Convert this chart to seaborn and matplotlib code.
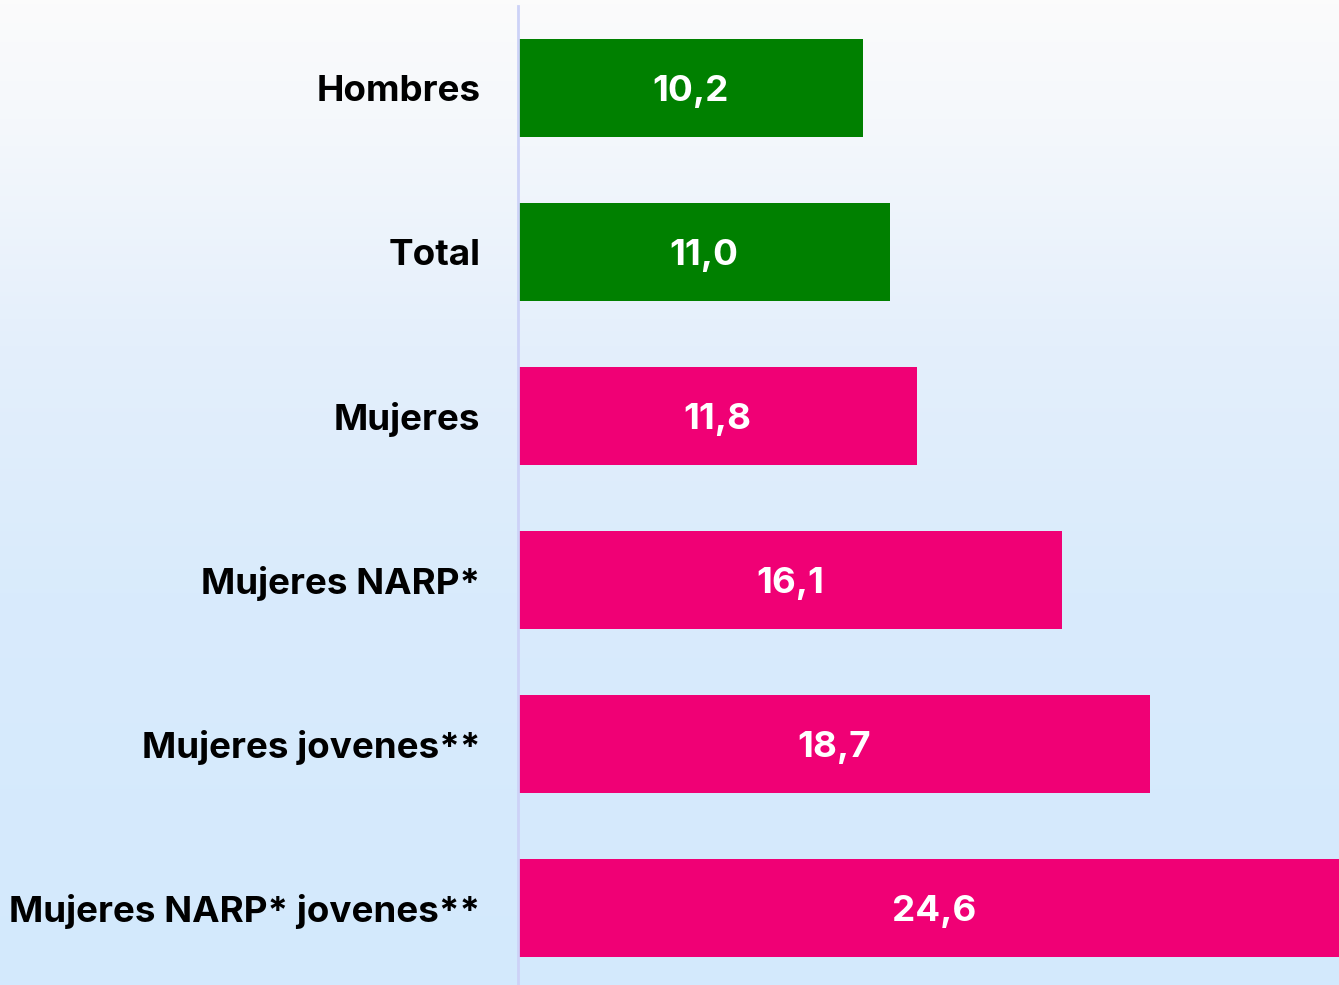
import numpy as np
import pandas as pd
import matplotlib
matplotlib.use("Agg")
import matplotlib.pyplot as plt
from matplotlib.colors import LinearSegmentedColormap
import seaborn as sns

categories = ["Hombres", "Total", "Mujeres", "Mujeres NARP*", "Mujeres jovenes**", "Mujeres NARP* jovenes**"]
values = [10.2, 11.0, 11.8, 16.1, 18.7, 24.6]
value_labels = ["10,2", "11,0", "11,8", "16,1", "18,7", "24,6"]
bar_colors = ["#008000", "#008000", "#F00075", "#F00075", "#F00075", "#F00075"]

sns.set_theme(style="white")
plt.rcParams["font.family"] = ["Inter", "DejaVu Sans"]

W, H = 1339, 985
fig = plt.figure(figsize=(W / 100, H / 100), dpi=100)

# background gradient
bg = fig.add_axes([0, 0, 1, 1], zorder=0)
cmap = LinearSegmentedColormap.from_list(
    "bg", [(0.0, "#FBFBFB"), (0.12, "#F5F8FB"), (0.35, "#E4EFFB"), (0.6, "#D9EBFC"), (1.0, "#D3E9FD")]
)
grad = np.linspace(0, 1, 256).reshape(-1, 1)
bg.imshow(grad, aspect="auto", cmap=cmap, extent=[0, 1, 1, 0])
bg.set_axis_off()

left = 518 / W
top_px, bot_px = 6, 990
ax = fig.add_axes([left, 1 - bot_px / H, 1 - left, (bot_px - top_px) / H], zorder=1)
ax.patch.set_alpha(0)

df = pd.DataFrame({"cat": categories, "val": values})
sns.barplot(data=df, y="cat", x="val", hue="cat", palette=bar_colors, order=categories,
            hue_order=categories, legend=False, width=0.6, orient="h", ax=ax,
            saturation=1, linewidth=0, edgecolor="none")

ax.set_xlim(0, (W - 518) / 33.8)
ax.set_ylim(len(categories) - 0.5, -0.5)
ax.set_xlabel("")
ax.set_ylabel("")
ax.set_xticks([])
for s in ["top", "right", "bottom"]:
    ax.spines[s].set_visible(False)
ax.spines["left"].set_color("#CDD2F7")
ax.spines["left"].set_linewidth(2)
ax.tick_params(axis="y", length=0, pad=27)
ax.set_yticks(range(len(categories)))
ax.set_yticklabels(categories, fontsize=26.5, fontweight="bold", color="#000000")

for i, (v, lab) in enumerate(zip(values, value_labels)):
    xc = min(v, ax.get_xlim()[1] + 0.6) / 2
    ax.text(xc, i, lab, ha="center", va="center_baseline", color="white",
            fontsize=26.5, fontweight="bold")

fig.savefig("out.png", dpi=100)
